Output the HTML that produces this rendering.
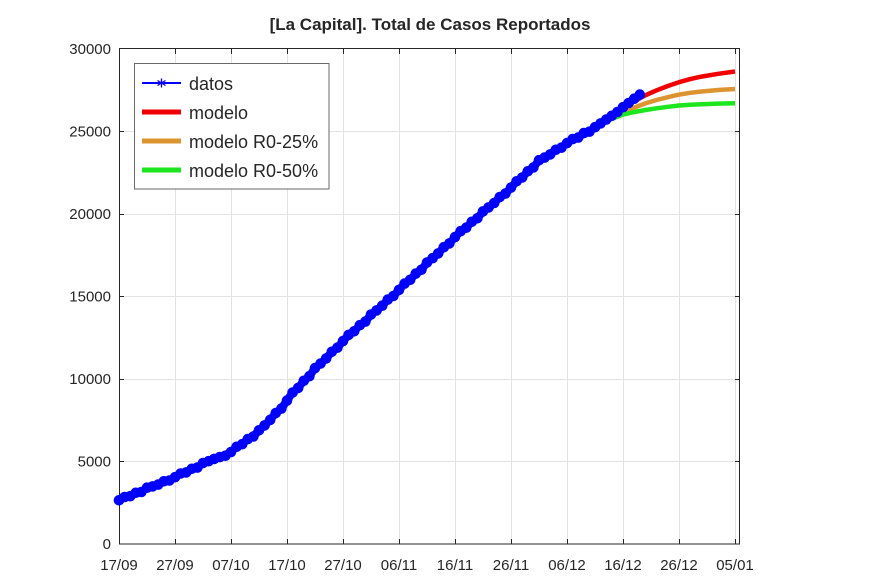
<!DOCTYPE html>
<html>
<head>
<meta charset="utf-8">
<style>
html,body{margin:0;padding:0;background:#fff;}
svg{display:block;}
text{font-family:"Liberation Sans",Arial,sans-serif;fill:#262626;}
</style>
</head>
<body>
<svg width="870" height="580" viewBox="0 0 870 580" xmlns="http://www.w3.org/2000/svg">
<rect x="0" y="0" width="870" height="580" fill="#fff"/>
<text x="430" y="30" text-anchor="middle" font-size="17" font-weight="bold">[La Capital]. Total de Casos Reportados</text>

<!-- grid -->
<g stroke="#e3e3e3" stroke-width="1">
<line x1="175.5" y1="49" x2="175.5" y2="544"/>
<line x1="231.5" y1="49" x2="231.5" y2="544"/>
<line x1="287.5" y1="49" x2="287.5" y2="544"/>
<line x1="343.5" y1="49" x2="343.5" y2="544"/>
<line x1="399.5" y1="49" x2="399.5" y2="544"/>
<line x1="455.5" y1="49" x2="455.5" y2="544"/>
<line x1="511.5" y1="49" x2="511.5" y2="544"/>
<line x1="567.5" y1="49" x2="567.5" y2="544"/>
<line x1="623.5" y1="49" x2="623.5" y2="544"/>
<line x1="679.5" y1="49" x2="679.5" y2="544"/>
<line x1="735.5" y1="49" x2="735.5" y2="544"/>
<line x1="119" y1="461.5" x2="740" y2="461.5"/>
<line x1="119" y1="379.5" x2="740" y2="379.5"/>
<line x1="119" y1="296.5" x2="740" y2="296.5"/>
<line x1="119" y1="214.5" x2="740" y2="214.5"/>
<line x1="119" y1="131.5" x2="740" y2="131.5"/>
</g>

<!-- axes box -->
<rect x="119.5" y="48.5" width="620" height="495.5" fill="none" stroke="#262626" stroke-width="1"/>

<!-- ticks -->
<g stroke="#262626" stroke-width="1">
<path d="M175.5 544v-5M231.5 544v-5M287.5 544v-5M343.5 544v-5M399.5 544v-5M455.5 544v-5M511.5 544v-5M567.5 544v-5M623.5 544v-5M679.5 544v-5M735.5 544v-5"/>
<path d="M175.5 49v5M231.5 49v5M287.5 49v5M343.5 49v5M399.5 49v5M455.5 49v5M511.5 49v5M567.5 49v5M623.5 49v5M679.5 49v5M735.5 49v5"/>
<path d="M119 461.5h5M119 379.5h5M119 296.5h5M119 214.5h5M119 131.5h5"/>
<path d="M740 461.5h-5M740 379.5h-5M740 296.5h-5M740 214.5h-5M740 131.5h-5"/>
</g>

<!-- y labels -->
<g font-size="15" text-anchor="end">
<text x="111" y="549">0</text>
<text x="111" y="466.5">5000</text>
<text x="111" y="384">10000</text>
<text x="111" y="301.5">15000</text>
<text x="111" y="219">20000</text>
<text x="111" y="136.5">25000</text>
<text x="111" y="54">30000</text>
</g>
<!-- x labels -->
<g font-size="15" text-anchor="middle">
<text x="119" y="570">17/09</text>
<text x="175" y="570">27/09</text>
<text x="231" y="570">07/10</text>
<text x="287" y="570">17/10</text>
<text x="343" y="570">27/10</text>
<text x="399" y="570">06/11</text>
<text x="455" y="570">16/11</text>
<text x="511" y="570">26/11</text>
<text x="567" y="570">06/12</text>
<text x="623" y="570">16/12</text>
<text x="679" y="570">26/12</text>
<text x="735" y="570">05/01</text>
</g>

<!-- model curves -->
<g fill="none" stroke-width="4.5" stroke-linejoin="round">
<polyline stroke="#f00000" points="119,500.3 124.6,498 130.2,495.7 135.8,493.3 141.4,491 147,488.7 152.6,486.4 158.2,484.1 163.8,481.8 169.4,479.5 175,477.2 180.6,474.5 186.2,471.9 191.8,469.3 197.4,466.6 203,464 208.6,461.2 214.2,458.4 219.8,455.6 225.4,452.8 231,450 236.6,445.8 242.2,441.7 247.8,437.6 253.4,433.5 259,429.3 264.6,423.4 270.2,417.4 275.8,411.5 281.4,405.6 287,399.6 292.6,393.5 298.2,387.4 303.8,381.3 309.4,375.2 315,369.1 320.6,363.5 326.2,357.9 331.8,352.3 337.4,346.7 343,341.1 348.6,335.9 354.2,330.8 359.8,325.7 365.4,320.6 371,315.5 376.6,310.4 382.2,305.2 387.8,300.1 393.4,295 399,289.9 404.6,284.6 410.2,279.3 415.8,274.1 421.4,268.8 427,263.5 432.6,258.2 438.2,252.9 443.8,247.7 449.4,242.4 455,237.1 460.6,232.2 466.2,227.2 471.8,222.3 477.4,217.3 483,212.4 488.6,207.4 494.2,202.5 499.8,197.5 505.4,192.6 511,187.6 516.6,182.3 522.2,177 527.8,171.8 533.4,166.5 539,161.2 544.6,157.6 550.2,153.9 555.8,150.3 561.4,146.7 567,143.1 572.6,140.1 578.2,137.1 583.8,134.1 589.4,131.2 595,128.2 600.6,124.8 606.2,121.2 611.8,117 617.4,112.6 623,108.5 628.6,105 634.2,101.6 639.8,98.3 645.4,95.3 656.6,90.3 667.8,86 679,82.2 690.2,79.1 701.4,76.6 718.2,73.8 735,71.5"/>
<polyline stroke="#dc9430" points="606.2,121.2 611.8,118.6 617.4,115.6 623,112.6 634.2,107.6 645.4,103.4 656.6,100 667.8,97.2 679,94.6 690.2,92.8 701.4,91.5 718.2,90 735,89"/>
<polyline stroke="#1ee61e" points="606.2,121.2 611.8,119 617.4,116.8 623,114.6 634.2,112.1 645.4,110 656.6,108.3 667.8,106.8 679,105.5 690.2,104.7 701.4,104.2 718.2,103.6 735,103.3"/>
</g>

<!-- data -->
<polyline fill="none" stroke="#0000ff" stroke-width="8" stroke-linejoin="round" stroke-linecap="round" points="119,500.3 124.6,497 130.2,496.2 135.8,492.8 141.4,492 147,487.7 152.6,486.4 158.2,484.6 163.8,481.3 169.4,480.5 175,477.2 180.6,473.5 186.2,472.4 191.8,468.8 197.4,467.6 203,463 208.6,461.2 214.2,458.9 219.8,457.1 225.4,455.8 231,452 236.6,446.8 242.2,444.2 247.8,439.1 253.4,436.5 259,430.3 264.6,425.4 270.2,419.9 275.8,413 281.4,408.6 287,400.6 292.6,392.5 298.2,387.9 303.8,380.8 309.4,376.2 315,368.1 320.6,363.5 326.2,358.4 331.8,351.8 337.4,347.7 343,341.1 348.6,334.9 354.2,331.3 359.8,325.2 365.4,321.6 371,314.5 376.6,310.4 382.2,305.7 387.8,299.6 393.4,296 399,289.9 404.6,283.6 410.2,279.8 415.8,273.6 421.4,269.8 427,262.5 432.6,258.2 438.2,253.4 443.8,247.2 449.4,243.4 455,237.1 460.6,231.2 466.2,227.7 471.8,221.8 477.4,218.3 483,211.4 488.6,207.4 494.2,203 499.8,197 505.4,193.6 511,187.6 516.6,181.3 522.2,177.5 527.8,171.3 533.4,167.5 539,160.2 544.6,157.6 550.2,154.4 555.8,149.8 561.4,147.7 567,143.1 572.6,139.1 578.2,137.6 583.8,133.1 589.4,131.7 595,127.2 600.6,123.4 606.2,119.6 611.8,115.8 617.4,112 623,107.2 628.6,103 634.2,98.7 639.8,94.6"/>
<g fill="#0000ff">
<circle cx="119" cy="500.3" r="5.3"/><circle cx="124.6" cy="497" r="5.3"/><circle cx="130.2" cy="496.2" r="5.3"/><circle cx="135.8" cy="492.8" r="5.3"/><circle cx="141.4" cy="492" r="5.3"/><circle cx="147" cy="487.7" r="5.3"/><circle cx="152.6" cy="486.4" r="5.3"/><circle cx="158.2" cy="484.6" r="5.3"/><circle cx="163.8" cy="481.3" r="5.3"/><circle cx="169.4" cy="480.5" r="5.3"/>
<circle cx="175" cy="477.2" r="5.3"/><circle cx="180.6" cy="473.5" r="5.3"/><circle cx="186.2" cy="472.4" r="5.3"/><circle cx="191.8" cy="468.8" r="5.3"/><circle cx="197.4" cy="467.6" r="5.3"/><circle cx="203" cy="463" r="5.3"/><circle cx="208.6" cy="461.2" r="5.3"/><circle cx="214.2" cy="458.9" r="5.3"/><circle cx="219.8" cy="457.1" r="5.3"/><circle cx="225.4" cy="455.8" r="5.3"/>
<circle cx="231" cy="452" r="5.3"/><circle cx="236.6" cy="446.8" r="5.3"/><circle cx="242.2" cy="444.2" r="5.3"/><circle cx="247.8" cy="439.1" r="5.3"/><circle cx="253.4" cy="436.5" r="5.3"/><circle cx="259" cy="430.3" r="5.3"/><circle cx="264.6" cy="425.4" r="5.3"/><circle cx="270.2" cy="419.9" r="5.3"/><circle cx="275.8" cy="413" r="5.3"/><circle cx="281.4" cy="408.6" r="5.3"/>
<circle cx="287" cy="400.6" r="5.3"/><circle cx="292.6" cy="392.5" r="5.3"/><circle cx="298.2" cy="387.9" r="5.3"/><circle cx="303.8" cy="380.8" r="5.3"/><circle cx="309.4" cy="376.2" r="5.3"/><circle cx="315" cy="368.1" r="5.3"/><circle cx="320.6" cy="363.5" r="5.3"/><circle cx="326.2" cy="358.4" r="5.3"/><circle cx="331.8" cy="351.8" r="5.3"/><circle cx="337.4" cy="347.7" r="5.3"/>
<circle cx="343" cy="341.1" r="5.3"/><circle cx="348.6" cy="334.9" r="5.3"/><circle cx="354.2" cy="331.3" r="5.3"/><circle cx="359.8" cy="325.2" r="5.3"/><circle cx="365.4" cy="321.6" r="5.3"/><circle cx="371" cy="314.5" r="5.3"/><circle cx="376.6" cy="310.4" r="5.3"/><circle cx="382.2" cy="305.7" r="5.3"/><circle cx="387.8" cy="299.6" r="5.3"/><circle cx="393.4" cy="296" r="5.3"/>
<circle cx="399" cy="289.9" r="5.3"/><circle cx="404.6" cy="283.6" r="5.3"/><circle cx="410.2" cy="279.8" r="5.3"/><circle cx="415.8" cy="273.6" r="5.3"/><circle cx="421.4" cy="269.8" r="5.3"/><circle cx="427" cy="262.5" r="5.3"/><circle cx="432.6" cy="258.2" r="5.3"/><circle cx="438.2" cy="253.4" r="5.3"/><circle cx="443.8" cy="247.2" r="5.3"/><circle cx="449.4" cy="243.4" r="5.3"/>
<circle cx="455" cy="237.1" r="5.3"/><circle cx="460.6" cy="231.2" r="5.3"/><circle cx="466.2" cy="227.7" r="5.3"/><circle cx="471.8" cy="221.8" r="5.3"/><circle cx="477.4" cy="218.3" r="5.3"/><circle cx="483" cy="211.4" r="5.3"/><circle cx="488.6" cy="207.4" r="5.3"/><circle cx="494.2" cy="203" r="5.3"/><circle cx="499.8" cy="197" r="5.3"/><circle cx="505.4" cy="193.6" r="5.3"/>
<circle cx="511" cy="187.6" r="5.3"/><circle cx="516.6" cy="181.3" r="5.3"/><circle cx="522.2" cy="177.5" r="5.3"/><circle cx="527.8" cy="171.3" r="5.3"/><circle cx="533.4" cy="167.5" r="5.3"/><circle cx="539" cy="160.2" r="5.3"/><circle cx="544.6" cy="157.6" r="5.3"/><circle cx="550.2" cy="154.4" r="5.3"/><circle cx="555.8" cy="149.8" r="5.3"/><circle cx="561.4" cy="147.7" r="5.3"/>
<circle cx="567" cy="143.1" r="5.3"/><circle cx="572.6" cy="139.1" r="5.3"/><circle cx="578.2" cy="137.6" r="5.3"/><circle cx="583.8" cy="133.1" r="5.3"/><circle cx="589.4" cy="131.7" r="5.3"/><circle cx="595" cy="127.2" r="5.3"/><circle cx="600.6" cy="123.4" r="5.3"/><circle cx="606.2" cy="119.6" r="5.3"/><circle cx="611.8" cy="115.8" r="5.3"/><circle cx="617.4" cy="112" r="5.3"/>
<circle cx="623" cy="107.2" r="5.3"/><circle cx="628.6" cy="103" r="5.3"/><circle cx="634.2" cy="98.7" r="5.3"/><circle cx="639.8" cy="94.6" r="5.3"/>
</g>

<!-- legend -->
<rect x="134.5" y="63.5" width="194.5" height="125.5" fill="#fff" stroke="#6a6a6a" stroke-width="1"/>
<line x1="142" y1="83" x2="181" y2="83" stroke="#0000ff" stroke-width="2"/>
<g stroke="#0000ff" stroke-width="1.3">
<line x1="161.5" y1="78.5" x2="161.5" y2="87.5"/>
<line x1="157.5" y1="80.5" x2="165.5" y2="85.5"/>
<line x1="157.5" y1="85.5" x2="165.5" y2="80.5"/>
</g>
<line x1="142" y1="112" x2="181" y2="112" stroke="#f00000" stroke-width="5"/>
<line x1="142" y1="141" x2="181" y2="141" stroke="#dc9430" stroke-width="5"/>
<line x1="142" y1="170" x2="181" y2="170" stroke="#1ee61e" stroke-width="5"/>
<g font-size="18">
<text x="189" y="90">datos</text>
<text x="189" y="119">modelo</text>
<text x="189" y="148">modelo R0-25%</text>
<text x="189" y="177">modelo R0-50%</text>
</g>
</svg>
</body>
</html>
